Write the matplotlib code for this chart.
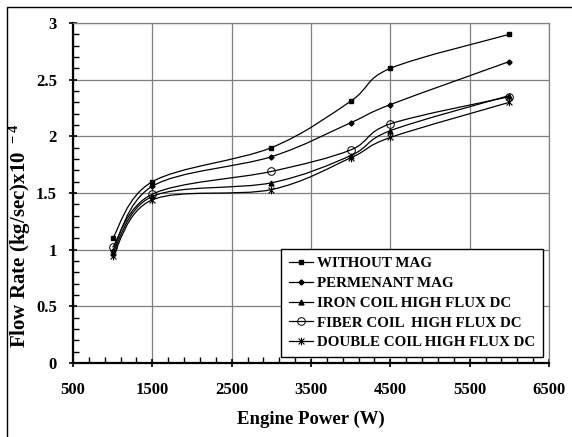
import numpy as np
import matplotlib
matplotlib.use("Agg")
import matplotlib.pyplot as plt
from matplotlib.path import Path
from matplotlib.patches import PathPatch, Rectangle
from matplotlib.lines import Line2D

plt.rcParams['font.family'] = ['Liberation Serif', 'DejaVu Serif']
plt.rcParams['font.weight'] = 'bold'
plt.rcParams['mathtext.fontset'] = 'custom'
plt.rcParams['mathtext.rm'] = 'Liberation Serif:bold'
plt.rcParams['mathtext.bf'] = 'Liberation Serif:bold'
plt.rcParams['mathtext.default'] = 'bf'

# ---- data ----
power = [1000, 1500, 3000, 4000, 4500, 6000]
without_mag = [1.10, 1.60, 1.90, 2.31, 2.60, 2.90]
permanent_mag = [0.99, 1.56, 1.82, 2.12, 2.28, 2.66]
iron_coil = [0.97, 1.47, 1.59, 1.83, 2.05, 2.36]
fiber_coil = [1.02, 1.49, 1.69, 1.88, 2.11, 2.35]
double_coil = [0.94, 1.44, 1.53, 1.81, 1.99, 2.30]
series_labels = ["WITHOUT MAG", "PERMENANT MAG", "IRON COIL HIGH FLUX DC",
                 "FIBER COIL  HIGH FLUX DC", "DOUBLE COIL HIGH FLUX DC"]
x_ticks = [500, 1500, 2500, 3500, 4500, 5500, 6500]
y_ticks = [0, 0.5, 1, 1.5, 2, 2.5, 3]
y_tick_labels = ['0', '0.5', '1', '1.5', '2', '2.5', '3']

# star marker (x + vertical bar)
star = Path([(-1, -1), (1, 1), (-1, 1), (1, -1), (0, -1.3), (0, 1.3)],
            [Path.MOVETO, Path.LINETO, Path.MOVETO, Path.LINETO, Path.MOVETO, Path.LINETO])

styles = [
    dict(marker='s', ms=3.5, mfc='black', mec='black'),
    dict(marker='D', ms=2.6, mfc='black', mec='black'),
    dict(marker='^', ms=3.5, mfc='black', mec='black'),
    dict(marker='o', ms=5.5, mfc='none', mec='black', mew=0.7),
    dict(marker=star, ms=5.5, mfc='none', mec='black', mew=0.8),
]

fig = plt.figure(figsize=(5.72, 4.37), dpi=100)
ax = fig.add_axes([73/572, 74/437, 476/572, 340/437])


def smooth_path(xs, ys):
    pts = np.column_stack([xs, ys]).astype(float)
    n = len(pts)
    verts = [pts[0]]
    codes = [Path.MOVETO]
    for i in range(n - 1):
        p0 = pts[i - 1] if i > 0 else pts[i]
        p1 = pts[i]
        p2 = pts[i + 1]
        p3 = pts[i + 2] if i + 2 < n else pts[i + 1]
        c1 = p1 + (p2 - p0) / 6.0
        c2 = p2 - (p3 - p1) / 6.0
        verts += [c1, c2, p2]
        codes += [Path.CURVE4] * 3
    return Path(verts, codes)


all_series = [without_mag, permanent_mag, iron_coil, fiber_coil, double_coil]
handles = []
for ys, st, lab in zip(all_series, styles, series_labels):
    ax.add_patch(PathPatch(smooth_path(power, ys), fill=False, edgecolor='black', lw=0.9, zorder=3))
    ax.plot(power, ys, linestyle='none', zorder=4, **st)
    handles.append(Line2D([], [], color='black', lw=0.9, label=lab, **st))

ax.set_xlim(500, 6500)
ax.set_ylim(0, 3)
ax.set_xticks(x_ticks)
ax.set_yticks(y_ticks)
ax.set_xticklabels([str(v) for v in x_ticks])
ax.set_yticklabels(y_tick_labels)
ax.set_xticks(np.arange(500, 6501, 200), minor=True)
ax.set_yticks(np.arange(0, 3.001, 0.1), minor=True)

ax.grid(True, which='major', color='#7f7f7f', lw=0.9)
ax.set_axisbelow(True)
for s in ['top', 'right']:
    ax.spines[s].set_color('#7f7f7f')
    ax.spines[s].set_linewidth(0.9)
for s in ['left', 'bottom']:
    ax.spines[s].set_color('black')
    ax.spines[s].set_linewidth(1.6)

ax.tick_params(which='major', direction='inout', length=6, width=1.2, labelsize=12)
ax.tick_params(axis='y', which='major', pad=8.5)
ax.tick_params(axis='x', which='major', pad=10.5)
ax.tick_params(which='minor', direction='in', length=4, width=1.0)
ax.tick_params(top=False, right=False, which='both')

ax.set_xlabel('Engine Power (W)', fontsize=13.5, fontweight='bold')
ax.xaxis.set_label_coords(0.5, -48/340, transform=ax.transAxes)
ax.set_ylabel(r'Flow Rate (kg/sec)x10$^{\ -4}$', fontsize=15, fontweight='bold')
ax.yaxis.set_label_coords(-40/476, 0.375, transform=ax.transAxes)

leg = ax.legend(handles=handles, loc='lower right', frameon=True, fancybox=False,
                edgecolor='black', framealpha=1, handlelength=1.6, handletextpad=0.3,
                labelspacing=0.42, borderpad=0.5, borderaxespad=0.4,
                prop={'weight': 'bold', 'size': 10.8, 'family': 'Liberation Serif'})
leg.get_frame().set_linewidth(1.0)

fig.patches.append(Rectangle((7/572, -0.1), 1.5, 1.1 - 7/437, transform=fig.transFigure,
                             fill=False, edgecolor='black', lw=1.0))

fig.savefig('out.png', dpi=100)
